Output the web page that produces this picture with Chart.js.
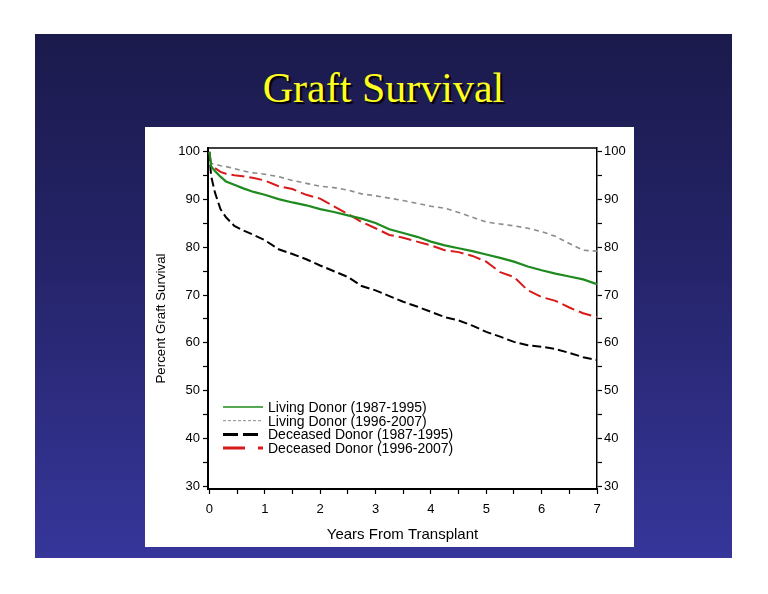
<!DOCTYPE html>
<html>
<head>
<meta charset="utf-8">
<script src="https://cdn.jsdelivr.net/npm/chart.js@4.4.0/dist/chart.umd.min.js"></script>
<style>
  html, body { margin: 0; padding: 0; background: #fff; }
  body { width: 768px; height: 594px; position: relative; overflow: hidden; }
  #slide {
    position: absolute; left: 35px; top: 34px; width: 697px; height: 524px;
    background: linear-gradient(to bottom, #1b1a4c 0%, #25246a 45%, #36369b 100%);
  }
  #title {
    position: absolute; left: 35px; top: 64px; width: 697px; text-align: center;
    font-family: "Liberation Serif", "Times New Roman", serif; font-size: 42px;
    color: #ffff1e; text-shadow: 2px 2px 1px #000;
    line-height: 48px;
  }
  #panel {
    position: absolute; left: 145px; top: 127px; width: 489px; height: 420px; background: #fff;
  }
</style>
</head>
<body>
<div id="slide"></div>
<div id="title">Graft Survival</div>
<div id="panel"><canvas id="graft" width="489" height="420"></canvas></div>
<script>
// years after transplant
var years = [0, 0.03, 0.1, 0.2, 0.3, 0.45, 0.6, 0.8, 1.0, 1.25, 1.5, 1.75, 2.0, 2.25, 2.5, 2.75,
             3.0, 3.25, 3.5, 3.75, 4.0, 4.25, 4.5, 4.75, 5.0, 5.25, 5.5, 5.75, 6.0, 6.25, 6.5, 6.75, 7.0];

// percent graft survival per group
var livingOld = [100, 97.0, 96.0, 94.8, 93.8, 93.1, 92.4, 91.6, 91.0, 90.1, 89.4, 88.8, 88.0, 87.4, 86.7, 86.0,
                 85.1, 83.8, 83.0, 82.2, 81.2, 80.4, 79.8, 79.2, 78.5, 77.8, 77.0, 76.0, 75.2, 74.5, 73.9, 73.3, 72.3];
var livingNew = [100, 97.6, 97.4, 97.1, 96.9, 96.5, 96.0, 95.6, 95.3, 94.8, 94.0, 93.4, 92.8, 92.5, 92.0, 91.2,
                 90.8, 90.3, 89.8, 89.2, 88.6, 88.2, 87.3, 86.3, 85.3, 84.9, 84.5, 84.0, 83.3, 82.3, 80.8, 79.4, 79.2];
var deceasedOld = [100, 95.0, 91.5, 88.0, 86.3, 84.5, 83.6, 82.6, 81.5, 79.6, 78.6, 77.5, 76.2, 75.0, 73.8, 71.9,
                   71.0, 69.8, 68.6, 67.6, 66.5, 65.4, 64.7, 63.6, 62.3, 61.3, 60.2, 59.5, 59.2, 58.7, 57.9, 57.0, 56.4];
var deceasedNew = [100, 97.5, 96.6, 95.8, 95.4, 95.1, 94.9, 94.5, 94.0, 92.8, 92.2, 91.0, 90.2, 88.6, 87.0, 85.3,
                   84.0, 82.6, 82.0, 81.2, 80.4, 79.4, 79.0, 78.2, 77.0, 74.8, 73.8, 71.0, 69.6, 68.8, 67.4, 66.2, 65.4];

var seriesLabels = ["Living Donor (1987-1995)", "Living Donor (1996-2007)",
                    "Deceased Donor (1987-1995)", "Deceased Donor (1996-2007)"];

var xTicks = [0, 0.5, 1, 1.5, 2, 2.5, 3, 3.5, 4, 4.5, 5, 5.5, 6, 6.5, 7];
var yTicks = [30, 35, 40, 45, 50, 55, 60, 65, 70, 75, 80, 85, 90, 95, 100];

function pts(vals) {
    return years.map(function(x, i) { return {x: x, y: vals[i]}; });
}

var fontFam = '"Liberation Sans", Arial, sans-serif';

// legend drawn inside the plot (lower left)
var insideLegend = {
    id: 'insideLegend',
    afterDraw: function(chart) {
        var c = chart.ctx, a = chart.chartArea;
        var x0 = a.left + 15, y0 = a.bottom - 82;
        c.save();
        c.font = '14px ' + fontFam;
        c.textBaseline = 'middle';
        chart.data.datasets.forEach(function(ds, i) {
            var y = y0 + i * 13.7;
            c.beginPath();
            c.strokeStyle = ds.borderColor;
            c.lineWidth = ds.legendWidth;
            c.setLineDash(ds.legendDash);
            c.moveTo(x0, y);
            c.lineTo(x0 + 40, y);
            c.stroke();
            c.setLineDash([]);
            c.fillStyle = '#000';
            c.fillText(ds.label, x0 + 45, y + 1);
        });
        // top frame line
        c.beginPath();
        c.strokeStyle = '#000';
        c.lineWidth = 1.5;
        c.moveTo(a.left, a.top);
        c.lineTo(a.right, a.top);
        c.stroke();
        c.restore();
    }
};

var ctx = document.getElementById('graft').getContext('2d');
var chart = new Chart(ctx, {
    type: 'line',
    data: {
        datasets: [
        {
            label: seriesLabels[0],
            data: pts(livingOld),
            borderColor: '#1f8a1f',
            borderWidth: 2.2,
            legendWidth: 1.5,
            legendDash: []
        },
        {
            label: seriesLabels[1],
            data: pts(livingNew),
            borderColor: '#8c8c8c',
            borderWidth: 1.6,
            borderDash: [5, 4],
            legendWidth: 1,
            legendDash: [3, 2]
        },
        {
            label: seriesLabels[2],
            data: pts(deceasedOld),
            borderColor: '#000000',
            borderWidth: 2,
            borderDash: [9, 4],
            legendWidth: 3,
            legendDash: [15, 5]
        },
        {
            label: seriesLabels[3],
            data: pts(deceasedNew),
            borderColor: '#d81a1a',
            borderWidth: 2,
            borderDash: [13, 5],
            legendWidth: 3,
            legendDash: [22, 13, 5, 100]
        }]
    },
    options: {
        responsive: false,
        animation: false,
        layout: { padding: { top: 21, left: 0, right: 0, bottom: 0 } },
        elements: { point: { radius: 0 }, line: { tension: 0 } },
        plugins: { legend: { display: false }, tooltip: { enabled: false } },
        scales: {
            x: {
                type: 'linear', min: -0.025, max: 7,
                afterBuildTicks: function(s) { s.ticks = xTicks.map(function(v) { return {value: v}; }); },
                afterFit: function(s) { s.height = 58; },
                border: { display: true, color: '#000', width: 2 },
                grid: { drawOnChartArea: false, drawTicks: true, tickLength: 5, tickColor: '#000', tickWidth: 1.2 },
                ticks: {
                    color: '#000', padding: 8, maxRotation: 0, autoSkip: false,
                    font: { family: fontFam, size: 13 },
                    callback: function(v) { return v % 1 === 0 ? v : ''; }
                },
                title: {
                    display: true, text: 'Years From Transplant', color: '#000',
                    font: { family: fontFam, size: 15 }, padding: { top: 0, bottom: 3 }
                }
            },
            y: {
                position: 'left', min: 29.4, max: 100.8,
                afterBuildTicks: function(s) { s.ticks = yTicks.map(function(v) { return {value: v}; }); },
                afterFit: function(s) { s.width = 63; },
                border: { display: true, color: '#000', width: 2 },
                grid: { drawOnChartArea: false, drawTicks: true, tickLength: 5, tickColor: '#000', tickWidth: 1.2 },
                ticks: {
                    color: '#000', padding: 3, autoSkip: false,
                    font: { family: fontFam, size: 13 },
                    callback: function(v) { return v % 10 === 0 ? v : ''; }
                },
                title: {
                    display: true, text: 'Percent Graft Survival', color: '#000',
                    font: { family: fontFam, size: 13.3 }, padding: { top: 8, bottom: 0 }
                }
            },
            y2: {
                position: 'right', min: 29.4, max: 100.8,
                afterBuildTicks: function(s) { s.ticks = yTicks.map(function(v) { return {value: v}; }); },
                afterFit: function(s) { s.width = 37; },
                border: { display: true, color: '#000', width: 1.5 },
                grid: { drawOnChartArea: false, drawTicks: true, tickLength: 5, tickColor: '#000', tickWidth: 1.2 },
                ticks: {
                    color: '#000', padding: 2, autoSkip: false,
                    font: { family: fontFam, size: 13 },
                    callback: function(v) { return v % 10 === 0 ? v : ''; }
                }
            }
        }
    },
    plugins: [insideLegend]
});
</script>
</body>
</html>
